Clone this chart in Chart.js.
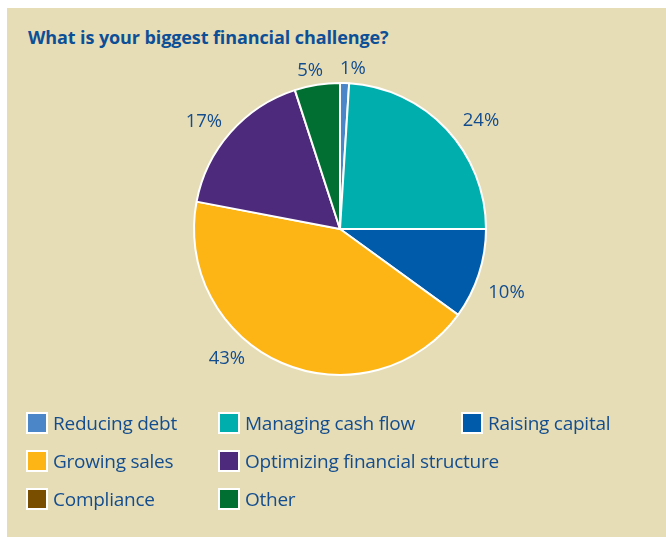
<!DOCTYPE html>
<html>
<head>
<meta charset="utf-8">
<script src="https://cdn.jsdelivr.net/npm/chart.js@4"></script>
<style>
  body { margin: 0; background: #ffffff; font-family: "Open Sans", "Noto Sans", sans-serif; }
  #panel { position: absolute; left: 7px; top: 8px; width: 659px; height: 529px; background: #e6ddb7; }
  #title { position: absolute; left: 28px; top: 25px; margin: 0; font-size: 18px; font-weight: bold; color: #0d4f96; white-space: nowrap; letter-spacing: -0.1px; }
  #wrap { position: absolute; left: 0; top: 0; width: 666px; height: 537px; }
  #legend { position: absolute; left: 26px; top: 412px; display: grid; grid-template-columns: 192px 243px auto; grid-auto-rows: 38px; }
  .item { display: flex; align-items: flex-start; font-size: 19px; letter-spacing: -0.25px; color: #134d8e; white-space: nowrap; }
  .box { width: 18px; height: 18px; border: 2px solid #ffffff; margin-right: 5px; flex: none; }
  .item span { line-height: 22px; }
</style>
</head>
<body>
<div id="panel"></div>
<h1 id="title">What is your biggest financial challenge?</h1>
<div id="wrap"><canvas id="pie"></canvas></div>
<div id="legend"></div>
<script>
var categories = ["Reducing debt", "Managing cash flow", "Raising capital", "Growing sales",
                  "Optimizing financial structure", "Compliance", "Other"];
var shares = [1, 24, 10, 43, 17, 0, 5];
var colors = ["#4a86c8", "#00afad", "#005cab", "#fdb515", "#4e2a7c", "#7a4e00", "#006f31"];

// legend boxes under the pie, three per row
var legend = document.getElementById("legend");
categories.forEach(function (name, i) {
  var item = document.createElement("div");
  item.className = "item";
  var box = document.createElement("div");
  box.className = "box";
  box.style.background = colors[i];
  var text = document.createElement("span");
  text.textContent = name;
  item.appendChild(box);
  item.appendChild(text);
  legend.appendChild(item);
  // the long label takes the rest of the second row
  if (i === 4) legend.appendChild(document.createElement("div"));
});

// percentage labels around the outside of each slice
var outsideLabels = {
  id: "outsideLabels",
  afterDatasetsDraw: function (chart, args, opts) {
    var ctx = chart.ctx;
    var meta = chart.getDatasetMeta(0);
    ctx.save();
    ctx.font = opts.font;
    ctx.fillStyle = opts.color;
    ctx.textAlign = "center";
    ctx.textBaseline = "middle";
    meta.data.forEach(function (arc, i) {
      var v = shares[i];
      if (!v) return;
      var text = v + "%";
      var tweak = opts.tweaks[i] || [0, 0];
      var mid = (arc.startAngle + arc.endAngle) / 2 + tweak[0] * Math.PI / 180;
      var halfW = ctx.measureText(text).width / 2;
      var halfH = 9;
      var c = Math.cos(mid), s = Math.sin(mid);
      var ext = Math.abs(c) * halfW + Math.abs(s) * halfH;
      var r = arc.outerRadius + opts.gap + ext + tweak[1];
      ctx.fillText(text, arc.x + c * r, arc.y + s * r);
    });
    ctx.restore();
  }
};

new Chart(document.getElementById("pie"), {
  type: "pie",
  data: {
    labels: categories,
    datasets: [{
      data: shares,
      backgroundColor: colors,
      borderColor: "#ffffff",
      borderWidth: 2,
      hoverOffset: 0
    }]
  },
  options: {
    responsive: true,
    maintainAspectRatio: false,
    animation: false,
    radius: 146,
    layout: { padding: { left: 14, right: 0, top: 0, bottom: 79 } },
    plugins: {
      legend: { display: false },
      tooltip: { enabled: false },
      outsideLabels: {
        font: "18.5px 'Open Sans', 'Noto Sans', sans-serif",
        color: "#134d8e",
        gap: 8,
        tweaks: [[2.8, -3], [5.6, 4], [2.9, 4], [17.8, -1], [-3.1, -0.5], [0, 0], [-1.7, -4.5]]
      }
    }
  },
  plugins: [outsideLabels]
});
</script>
</body>
</html>
